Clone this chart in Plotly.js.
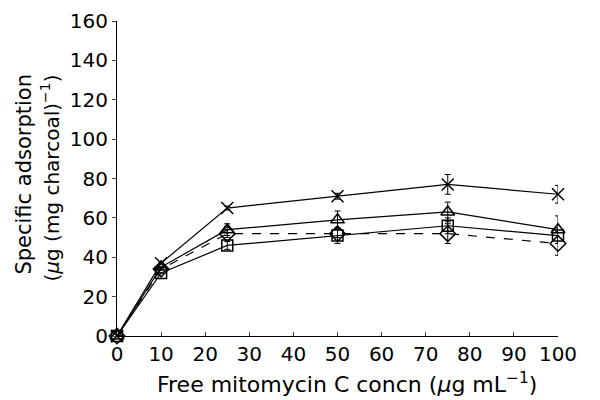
<!DOCTYPE html>
<html><head><meta charset="utf-8">
<script src="https://cdn.plot.ly/plotly-3.0.1.min.js"></script>
<style>body{margin:0;background:#fff}#c{width:600px;height:400px}</style>
</head><body><div id="c"></div>
<script>
const conc = [0, 10, 25, 50, 75, 100];
const crossY = [0, 37, 65, 71, 77, 72];
const crossErr = [0, 0, 1, 1.5, 5, 4.5];
const triY = [0, 35, 54, 59, 63, 54];
const triErr = [0, 0, 3, 4.5, 5, 7];
const diaY = [0, 34, 52, 52, 52, 47];
const diaErr = [0, 0, 2, 2, 5, 6];
const sqY = [0, 32, 46, 51, 56, 51];
const sqErr = [0, 0, 2, 4, 4, 4];
const xTicks = [0, 10, 20, 30, 40, 50, 60, 70, 80, 90, 100];
const xTitle = 'Free mitomycin C concn (<i>μ</i>g mL<sup>−1</sup>)';
const yTitle1 = 'Specific adsorption';
const yTitle2 = '(<i>μ</i>g (mg charcoal)<sup>−1</sup>)';

function tr(y, err, sym, dash, size) {
  return {
    x: conc, y: y, type: 'scatter', mode: 'lines+markers', cliponaxis: false,
    line: {color: '#000', width: 1.2, dash: dash},
    marker: {symbol: sym, size: size, color: '#000', line: {color: '#000', width: 1.5}},
    error_y: {type: 'data', array: err, visible: true, color: '#000', thickness: 1, width: 3},
    showlegend: false
  };
}
const data = [
  tr(sqY, sqErr, 'square-open', 'solid', 11),
  tr(diaY, diaErr, 'diamond-open', 'dash', 12),
  tr(triY, triErr, 'triangle-up-open', 'solid', 12),
  tr(crossY, crossErr, 'x-thin-open', 'solid', 12)
];
const fam = 'DejaVu Sans, sans-serif';
const layout = {
  width: 600, height: 400, paper_bgcolor: '#fff', plot_bgcolor: '#fff',
  margin: {l: 117, r: 42, t: 21, b: 64},
  font: {family: fam, color: '#000'},
  xaxis: {range: [0, 100], tickvals: xTicks, ticks: 'inside', ticklen: 4,
    showgrid: false, zeroline: false, showline: true, linecolor: '#000', linewidth: 1,
    tickfont: {size: 20, family: fam}, ticklabelstandoff: 0},
  yaxis: {range: [0, 160], dtick: 20, ticks: 'outside', ticklen: 4,
    showgrid: false, zeroline: false, showline: true, linecolor: '#000', linewidth: 1,
    tickfont: {size: 20, family: fam}, ticklabelstandoff: 0},
  annotations: [
    {text: xTitle, xref: 'paper', yref: 'paper', x: 0.522, y: -0.2, xanchor: 'center', yanchor: 'bottom',
     showarrow: false, font: {size: 22, family: fam, color: '#000'}},
    {text: yTitle1, xref: 'paper', yref: 'paper', x: -0.213, y: 0.838, xanchor: 'center', yanchor: 'top',
     textangle: -90, showarrow: false, font: {size: 21, family: fam, color: '#000'}},
    {text: yTitle2, xref: 'paper', yref: 'paper', x: -0.152, y: 0.838, xanchor: 'center', yanchor: 'top',
     textangle: -90, showarrow: false, font: {size: 20, family: fam, color: '#000'}}
  ]
};
Plotly.newPlot('c', data, layout, {staticPlot: true});
</script></body></html>
